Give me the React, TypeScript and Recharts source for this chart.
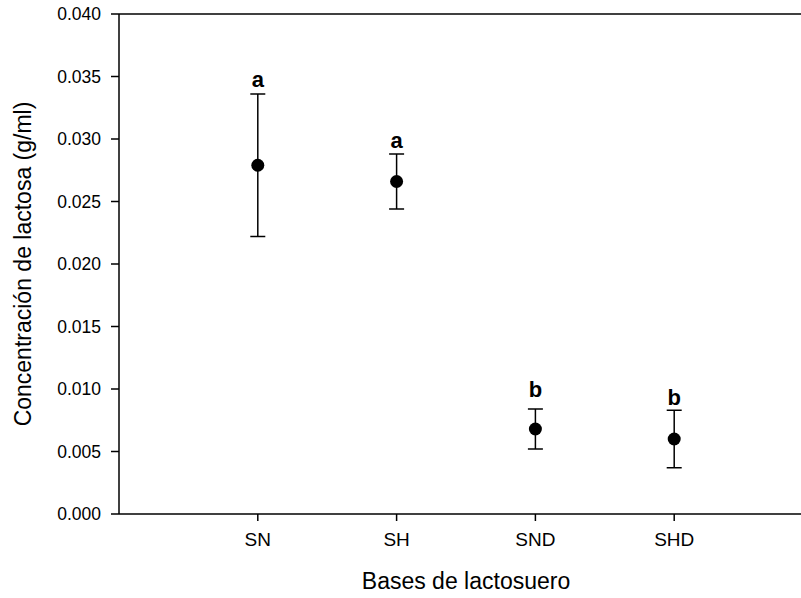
import { ErrorBar, ReferenceLine, Scatter, ScatterChart, XAxis, YAxis } from "recharts";

const categories = ["SN", "SH", "SND", "SHD"];
const means = [0.0279, 0.0266, 0.0068, 0.006];
const errs = [0.0057, 0.0022, 0.0016, 0.0023];
const letters = ["a", "a", "b", "b"];
// where the significance letters sit (baseline, in g/ml)
const letterPos = [0.0342, 0.0293, 0.0094, 0.0087];
const yTicks = [0, 0.005, 0.01, 0.015, 0.02, 0.025, 0.03, 0.035, 0.04];
const xTicks = [1, 2, 3, 4];

const FONT = "Arial, 'Liberation Sans', sans-serif";

const points = categories.map((c, i) => ({ x: i + 1, y: means[i], err: errs[i], name: c }));
const letterRows = categories.map((c, i) => ({ x: i + 1, y: letterPos[i], letter: letters[i] }));

const Dot = (p: any) => <circle cx={p.cx} cy={p.cy} r={6.5} fill="#000" />;
const Letter = (p: any) => (
  <text x={p.cx} y={p.cy} textAnchor="middle" fontFamily={FONT} fontWeight="bold" fontSize={22} fill="#000">
    {p.payload.letter}
  </text>
);

const axisStroke = { stroke: "#000", strokeWidth: 1.5 };

export default function App() {
  return (
    <div style={{ position: "absolute", left: 0, top: 0, width: 801, height: 598, overflow: "hidden", background: "#fff" }}>
      <ScatterChart width={830} height={598} margin={{ top: 14, right: 17, left: 0, bottom: 24 }}>
        <XAxis type="number" dataKey="x" domain={[0, 5]} ticks={xTicks} allowDecimals={false}
          tickFormatter={(v: number) => categories[v - 1] ?? ""}
          axisLine={axisStroke} tickLine={axisStroke} tickSize={7} tickMargin={12} height={60}
          tick={{ fill: "#000", fontSize: 19, fontFamily: FONT }}
          label={{
            content: ({ viewBox }: any) => (
              <text x={viewBox.x + viewBox.width / 2} y={viewBox.y + 75} textAnchor="middle"
                fontFamily={FONT} fontSize={23} fill="#000">Bases de lactosuero</text>
            ),
          }} />
        <YAxis type="number" dataKey="y" domain={[0, 0.04]} ticks={yTicks} width={119}
          tickFormatter={(v: number) => v.toFixed(3)}
          axisLine={axisStroke} tickLine={axisStroke} tickSize={8} tickMargin={10}
          tick={{ fill: "#000", fontSize: 17.5, fontFamily: FONT }}
          label={{
            content: ({ viewBox }: any) => {
              const cx = viewBox.x + 31;
              const cy = viewBox.y + viewBox.height / 2;
              return (
                <text x={cx} y={cy} transform={`rotate(-90, ${cx}, ${cy})`} textAnchor="middle"
                  fontFamily={FONT} fontSize={23} fill="#000">Concentración de lactosa (g/ml)</text>
              );
            },
          }} />
        <ReferenceLine y={0.04} stroke="#000" strokeWidth={1.5} />
        <Scatter data={points} shape={Dot} isAnimationActive={false}>
          <ErrorBar dataKey="err" direction="y" width={7.5} stroke="#000" strokeWidth={1.5} isAnimationActive={false} />
        </Scatter>
        <Scatter data={letterRows} shape={Letter} isAnimationActive={false} />
      </ScatterChart>
    </div>
  );
}
